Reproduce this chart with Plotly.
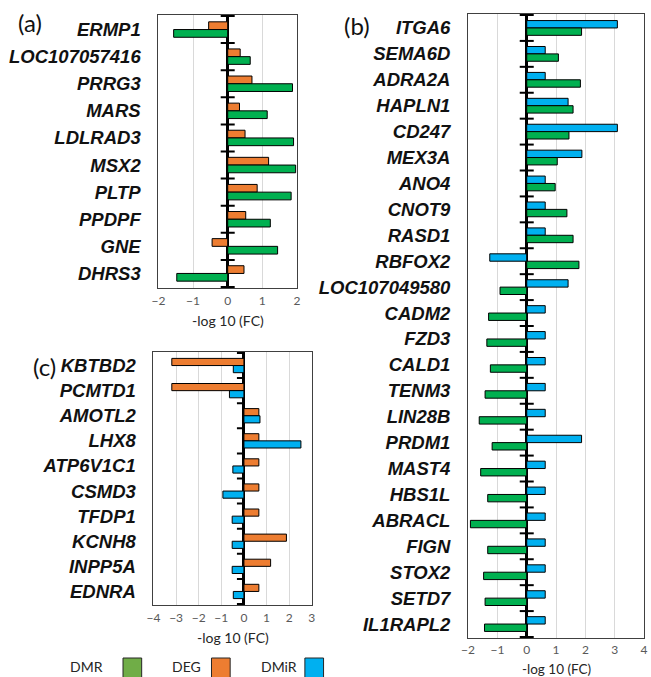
import plotly.graph_objects as go

# ---- Panel (a): DMR vs DEG ----
genes_a = ["ERMP1", "LOC107057416", "PRRG3", "MARS", "LDLRAD3", "MSX2",
           "PLTP", "PPDPF", "GNE", "DHRS3"]
deg_a = [-0.55, 0.36, 0.70, 0.34, 0.50, 1.18, 0.85, 0.52, -0.45, 0.47]
dmr_a = [-1.56, 0.65, 1.87, 1.14, 1.90, 1.96, 1.83, 1.23, 1.44, -1.47]

# ---- Panel (b): DMR vs DMiR ----
genes_b = ["ITGA6", "SEMA6D", "ADRA2A", "HAPLN1", "CD247", "MEX3A", "ANO4",
           "CNOT9", "RASD1", "RBFOX2", "LOC107049580", "CADM2", "FZD3",
           "CALD1", "TENM3", "LIN28B", "PRDM1", "MAST4", "HBS1L", "ABRACL",
           "FIGN", "STOX2", "SETD7", "IL1RAPL2"]
dmir_b = [3.09, 0.63, 0.63, 1.41, 3.09, 1.88, 0.63, 0.63, 0.63, -1.26,
          1.41, 0.63, 0.63, 0.63, 0.63, 0.63, 1.87, 0.63, 0.63, 0.63,
          0.63, 0.63, 0.63, 0.63]
dmr_b = [1.87, 1.08, 1.83, 1.58, 1.44, 1.04, 0.97, 1.37, 1.58, 1.78,
         -0.91, -1.30, -1.36, -1.24, -1.42, -1.62, -1.18, -1.57, -1.33,
         -1.92, -1.33, -1.47, -1.42, -1.44]

# ---- Panel (c): DEG vs DMiR ----
genes_c = ["KBTBD2", "PCMTD1", "AMOTL2", "LHX8", "ATP6V1C1", "CSMD3",
           "TFDP1", "KCNH8", "INPP5A", "EDNRA"]
deg_c = [-3.19, -3.19, 0.66, 0.66, 0.66, 0.66, 0.66, 1.88, 1.18, 0.66]
dmir_c = [-0.47, -0.64, 0.71, 2.52, -0.49, -0.93, -0.52, -0.52, -0.52, -0.47]

# axis ranges and tick values
range_a, ticks_a = [-2, 2], [-2, -1, 0, 1, 2]
range_b, ticks_b = [-2, 4], [-2, -1, 0, 1, 2, 3, 4]
range_c, ticks_c = [-4, 3], [-4, -3, -2, -1, 0, 1, 2, 3]

AXIS_TITLE = "-log 10 (FC)"

GREEN = "#00B050"
ORANGE = "#ED7D31"
BLUE = "#00B0F0"
LEGEND_GREEN = "#70AD47"

W, H = 651, 677


def px_x(p):
    return p / W


def px_y(p):
    return 1 - p / H


def bar(name, genes, vals, color, xa, ya):
    return go.Bar(
        name=name, y=genes, x=vals, orientation="h",
        marker=dict(color=color, line=dict(color="#000000", width=1)),
        xaxis=xa, yaxis=ya, showlegend=False,
    )


fig = go.Figure()
fig.add_trace(bar("DEG", genes_a, deg_a, ORANGE, "x", "y"))
fig.add_trace(bar("DMR", genes_a, dmr_a, GREEN, "x", "y"))
fig.add_trace(bar("DMiR", genes_b, dmir_b, BLUE, "x2", "y2"))
fig.add_trace(bar("DMR", genes_b, dmr_b, GREEN, "x2", "y2"))
fig.add_trace(bar("DEG", genes_c, deg_c, ORANGE, "x3", "y3"))
fig.add_trace(bar("DMiR", genes_c, dmir_c, BLUE, "x3", "y3"))

label_font = dict(family="Liberation Sans", size=18.5, weight="bold",
                  style="italic", color="#111111")
tick_font = dict(family="Lato", size=12, color="#595959")
title_font = dict(family="Lato", size=14, color="#262626")


def xaxis(rng, ticks, dom, anchor, standoff=2):
    return dict(
        domain=dom, range=rng, tickvals=ticks, anchor=anchor,
        showgrid=True, gridcolor="#D9D9D9", gridwidth=1,
        zeroline=True, zerolinecolor="#000000", zerolinewidth=2.5,
        showline=True, mirror=True, linecolor="#404040", linewidth=1,
        ticks="", tickfont=tick_font, ticklabelstandoff=standoff,
        fixedrange=True,
    )


def yaxis(dom, anchor):
    return dict(
        domain=dom, anchor=anchor, type="category", autorange="reversed",
        showgrid=False, zeroline=False,
        showline=True, mirror=True, linecolor="#404040", linewidth=1,
        ticks="", tickfont=label_font, ticklabelstandoff=13,
        fixedrange=True,
    )


# plot-area boxes in pixels: (left, right, top, bottom)
box_a = (154, 295, 15, 288)
box_b = (469, 648, 14, 638)
box_c = (149, 310, 352, 605)

fig.update_layout(
    width=W, height=H,
    margin=dict(l=0, r=0, t=0, b=0),
    paper_bgcolor="white", plot_bgcolor="white",
    barmode="group", bargap=0.43, bargroupgap=0,
    showlegend=False,
    xaxis=xaxis(range_a, ticks_a, [px_x(box_a[0]), px_x(box_a[1])], "y"),
    yaxis=yaxis([px_y(box_a[3]), px_y(box_a[2])], "x"),
    xaxis2=xaxis(range_b, ticks_b, [px_x(box_b[0]), px_x(box_b[1])], "y2",
                 standoff=1),
    yaxis2=yaxis([px_y(box_b[3]), px_y(box_b[2])], "x2"),
    xaxis3=xaxis(range_c, ticks_c, [px_x(box_c[0]), px_x(box_c[1])], "y3"),
    yaxis3=yaxis([px_y(box_c[3]), px_y(box_c[2])], "x3"),
)

# category tick marks crossing the zero line at group boundaries
shapes = []
for genes, xr, yr, left, right in [(genes_a, "x", "y", -7, 7),
                                   (genes_b, "x2", "y2", -7, 7),
                                   (genes_c, "x3", "y3", -7, 0)]:
    for k in range(len(genes) + 1):
        shapes.append(dict(
            type="line", xref=xr, yref=yr, xsizemode="pixel", xanchor=0,
            x0=left, x1=right, y0=k - 0.5, y1=k - 0.5,
            line=dict(color="#000000", width=2), layer="above",
        ))

annotations = []

# x-axis titles below each panel
for xr, y_px, anchor, size in [("x domain", 320, "middle", 14),
                               ("x2 domain", 678, "bottom", 13.5),
                               ("x3 domain", 637, "middle", 14)]:
    annotations.append(dict(
        text=AXIS_TITLE, x=0.5, y=px_y(y_px), xref=xr, yref="paper",
        showarrow=False, xanchor="center", yanchor=anchor,
        font=dict(title_font, size=size), borderpad=0,
    ))

# legend: text followed by a coloured square
legend_items = [("DMR", LEGEND_GREEN, 81, 118),
                ("DEG", ORANGE, 183, 208),
                ("DMiR", BLUE, 277, 303)]
for name, color, tx, bx in legend_items:
    annotations.append(dict(
        text=name, x=px_x(tx), y=0, xref="paper", yref="paper",
        showarrow=False, xanchor="center", yanchor="bottom",
        font=dict(family="Lato", size=14, color="#262626"),
    ))
    shapes.append(dict(
        type="rect", xref="paper", yref="paper",
        x0=px_x(bx), x1=px_x(bx + 19), y0=px_y(680), y1=px_y(658),
        fillcolor=color, line=dict(color="#262626", width=1),
    ))

# panel letters
for letter, x, y in [("(a)", 23, 22), ("(b)", 356, 25), ("(c)", 38, 367)]:
    annotations.append(dict(
        text=letter, x=px_x(x), y=px_y(y), xref="paper", yref="paper",
        showarrow=False, xanchor="center", yanchor="middle",
        font=dict(family="Lato", size=24, color="#111111"),
    ))

fig.update_layout(shapes=shapes, annotations=annotations)

fig.write_html("out.html")
